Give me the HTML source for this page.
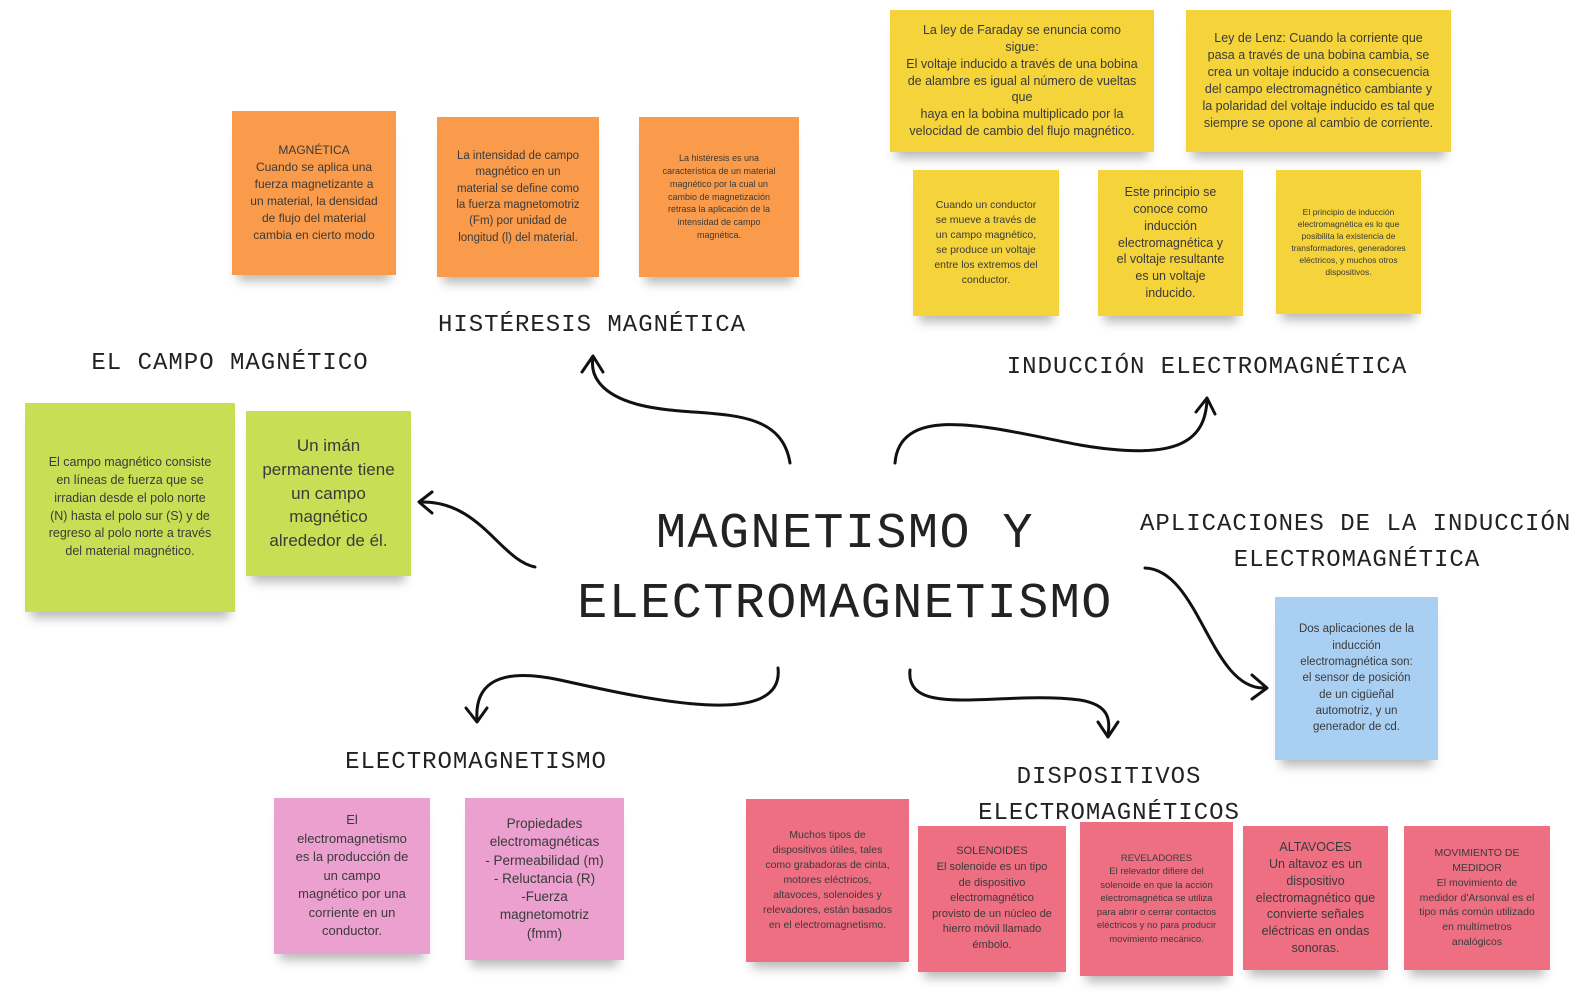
<!DOCTYPE html>
<html><head><meta charset="utf-8"><style>
body{margin:0;width:1574px;height:992px;background:#fff;position:relative;overflow:hidden;font-family:"Liberation Sans","DejaVu Sans",sans-serif}
.n{position:absolute;display:flex;align-items:center;justify-content:center;text-align:center;color:#3a3a3a;box-shadow:0 12px 10px -6px rgba(0,0,0,.28);box-sizing:border-box;padding:6px 18px;line-height:1.42}
.o{background:#f99b4a}.y{background:#f5d33a}.g{background:#c8df55}.p{background:#eba0cf}.r{background:#ef6f82}.b{background:#a9cff3}
.h{position:absolute;font-family:"Liberation Mono",monospace;font-size:24px;letter-spacing:1px;color:#222;white-space:nowrap;text-align:center}
</style></head><body>
<svg width="1574" height="992" style="position:absolute;left:0;top:0" fill="none" stroke="#111" stroke-width="3" stroke-linecap="round" stroke-linejoin="round">
<path d="M790 463 C780 400 700 420 640 405 C600 395 590 375 593 358"/><path d="M582 372 L593 356 L603 372"/>
<path d="M895 463 C900 400 1000 430 1080 445 C1180 462 1205 440 1207 400"/><path d="M1196 412 L1207 398 L1215 414"/>
<path d="M535 567 C500 560 480 500 420 502"/><path d="M432 492 L419 502 L432 513"/>
<path d="M778 668 C785 730 650 700 560 680 C490 665 475 690 477 720"/><path d="M466 708 L477 722 L487 708"/>
<path d="M910 670 C905 720 1000 690 1080 700 C1110 705 1110 720 1108 735"/><path d="M1098 722 L1108 737 L1118 722"/>
<path d="M1145 568 C1200 570 1210 690 1265 688"/><path d="M1252 675 L1267 688 L1252 699"/>
</svg>
<div class="h" style="left:40px;top:350px;width:380px">EL CAMPO MAGNÉTICO</div>
<div class="h" style="left:402px;top:312px;width:380px">HISTÉRESIS MAGNÉTICA</div>
<div class="h" style="left:992px;top:354px;width:430px">INDUCCIÓN ELECTROMAGNÉTICA</div>
<div class="h" style="left:1140px;top:511px;text-align:left;width:440px">APLICACIONES DE LA INDUCCIÓN</div>
<div class="h" style="left:1150px;top:547px;width:414px">ELECTROMAGNÉTICA</div>
<div class="h" style="left:300px;top:749px;width:352px">ELECTROMAGNETISMO</div>
<div class="h" style="left:950px;top:760px;width:318px;line-height:36px">DISPOSITIVOS<br>ELECTROMAGNÉTICOS</div>
<div class="h" style="left:505px;top:500px;width:680px;font-size:50px;letter-spacing:1.5px;line-height:70px">MAGNETISMO Y<br>ELECTROMAGNETISMO</div>

<div class="n o" style="left:232px;top:111px;width:164px;height:164px;font-size:12px">MAGNÉTICA<br>Cuando se aplica una fuerza magnetizante a un material, la densidad de flujo del material cambia en cierto modo</div>
<div class="n o" style="left:437px;top:117px;width:162px;height:160px;font-size:11.5px">La intensidad de campo magnético en un material se define como la fuerza magnetomotriz (Fm) por unidad de longitud (l) del material.</div>
<div class="n o" style="left:639px;top:117px;width:160px;height:160px;font-size:9px">La histéresis es una característica de un material magnético por la cual un cambio de magnetización retrasa la aplicación de la intensidad de campo magnética.</div>
<div class="n y" style="left:890px;top:10px;width:264px;height:142px;font-size:12.5px;line-height:1.35;padding:6px 16px">La ley de Faraday se enuncia como sigue:<br>El voltaje inducido a través de una bobina de alambre es igual al número de vueltas que<br>haya en la bobina multiplicado por la velocidad de cambio del flujo magnético.</div>
<div class="n y" style="left:1186px;top:10px;width:265px;height:142px;font-size:12.5px;line-height:1.35;padding:6px 16px">Ley de Lenz: Cuando la corriente que pasa a través de una bobina cambia, se crea un voltaje inducido a consecuencia del campo electromagnético cambiante y la polaridad del voltaje inducido es tal que siempre se opone al cambio de corriente.</div>
<div class="n y" style="left:913px;top:170px;width:146px;height:146px;font-size:10.5px;padding:6px 20px">Cuando un conductor se mueve a través de un campo magnético, se produce un voltaje entre los extremos del conductor.</div>
<div class="n y" style="left:1098px;top:170px;width:145px;height:146px;font-size:12.5px;line-height:1.35;padding:6px 18px">Este principio se conoce como inducción electromagnética y el voltaje resultante es un voltaje inducido.</div>
<div class="n y" style="left:1276px;top:170px;width:145px;height:144px;font-size:8.5px;padding:6px 14px">El principio de inducción electromagnética es lo que posibilita la existencia de transformadores, generadores eléctricos, y muchos otros dispositivos.</div>
<div class="n g" style="left:25px;top:403px;width:210px;height:209px;font-size:12.5px;padding:6px 20px">El campo magnético consiste en líneas de fuerza que se irradian desde el polo norte (N) hasta el polo sur (S) y de regreso al polo norte a través del material magnético.</div>
<div class="n g" style="left:246px;top:411px;width:165px;height:165px;font-size:17px;line-height:1.4;padding:6px 16px">Un imán permanente tiene un campo magnético alrededor de él.</div>
<div class="n b" style="left:1275px;top:597px;width:163px;height:163px;font-size:11.5px;padding:6px 20px">Dos aplicaciones de la inducción electromagnética son: el sensor de posición de un cigüeñal automotriz, y un generador de cd.</div>
<div class="n p" style="left:274px;top:798px;width:156px;height:156px;font-size:13px;padding:6px 20px">El electromagnetismo es la producción de un campo magnético por una corriente en un conductor.</div>
<div class="n p" style="left:465px;top:798px;width:159px;height:162px;font-size:13.5px;line-height:1.35">Propiedades electromagnéticas<br>- Permeabilidad (m)<br>- Reluctancia (R)<br>-Fuerza magnetomotriz (fmm)</div>
<div class="n r" style="left:746px;top:799px;width:163px;height:163px;font-size:10.5px;padding:6px 16px">Muchos tipos de dispositivos útiles, tales como grabadoras de cinta, motores eléctricos, altavoces, solenoides y relevadores, están basados en el electromagnetismo.</div>
<div class="n r" style="left:918px;top:826px;width:148px;height:146px;font-size:11px;padding:6px 12px">SOLENOIDES<br>El solenoide es un tipo de dispositivo electromagnético provisto de un núcleo de hierro móvil llamado émbolo.</div>
<div class="n r" style="left:1080px;top:822px;width:153px;height:154px;font-size:9.5px;padding:6px 14px">REVELADORES<br>El relevador difiere del solenoide en que la acción electromagnética se utiliza para abrir o cerrar contactos eléctricos y no para producir movimiento mecánico.</div>
<div class="n r" style="left:1243px;top:826px;width:145px;height:144px;font-size:12.5px;line-height:1.35;padding:6px 12px">ALTAVOCES<br>Un altavoz es un dispositivo electromagnético que convierte señales eléctricas en ondas sonoras.</div>
<div class="n r" style="left:1404px;top:826px;width:146px;height:144px;font-size:10.5px;padding:6px 14px">MOVIMIENTO DE MEDIDOR<br>El movimiento de medidor d'Arsonval es el tipo más común utilizado en multímetros analógicos</div>
</body></html>
